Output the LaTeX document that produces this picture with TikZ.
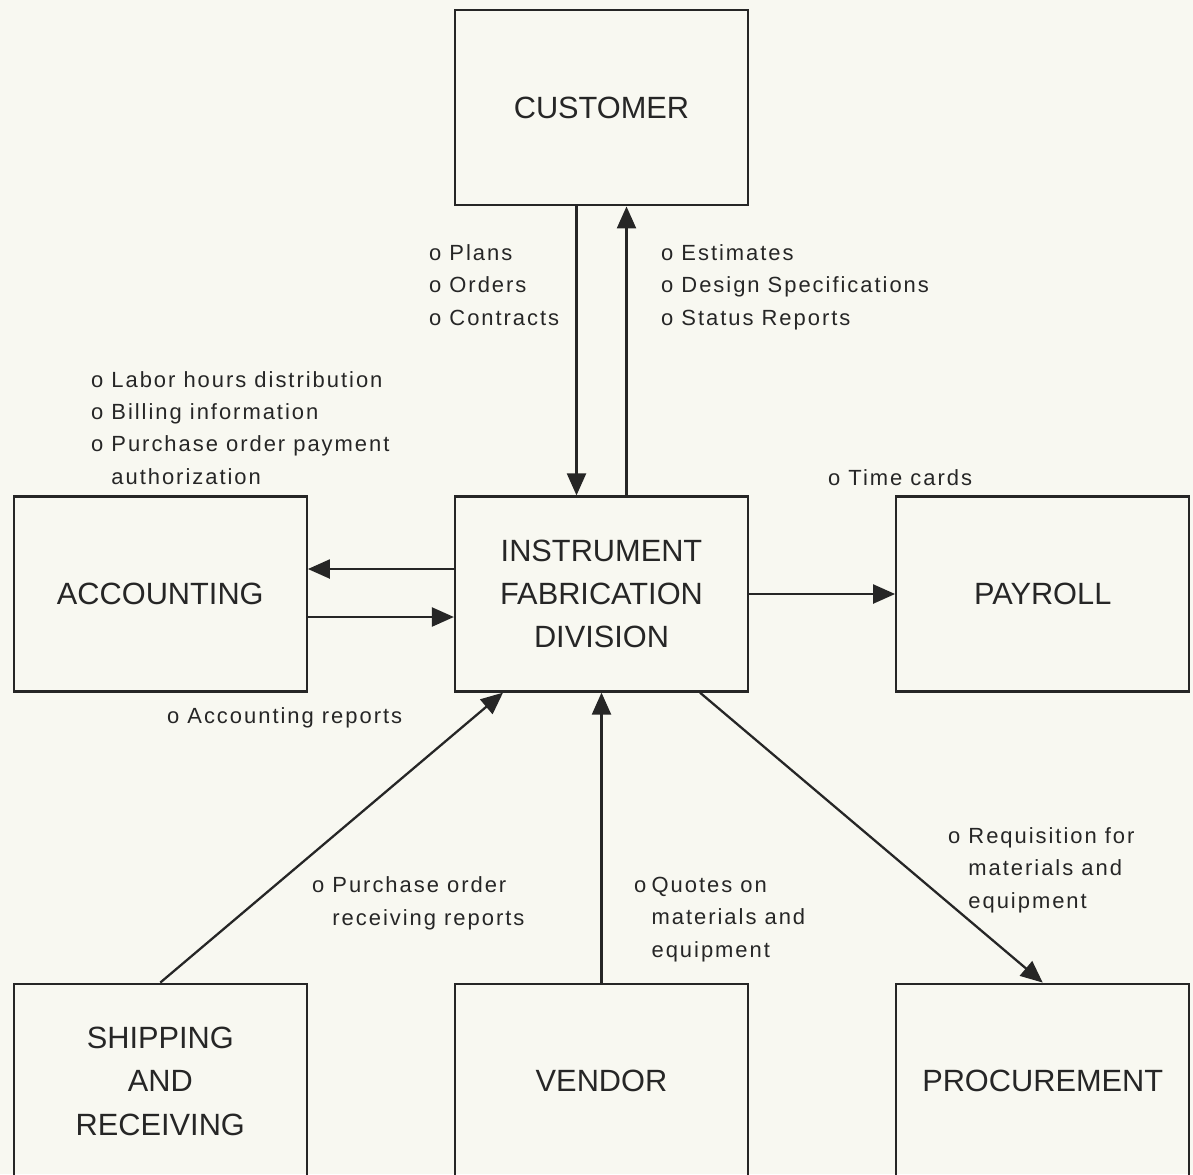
\documentclass[tikz,border=0pt]{standalone}
\usepackage{fontspec}
\setmainfont{Liberation Sans}
\newfontfamily\lblfont[LetterSpace=9]{Liberation Sans}
\usetikzlibrary{arrows.meta,positioning}
\definecolor{paper}{RGB}{248,248,241}
\definecolor{ink}{RGB}{38,38,38}

\begin{document}
\begin{tikzpicture}[->,>={Triangle[length=0.44cm,width=0.38cm]},line width=1.3pt,color=ink,
  x=0.02cm,y=-0.02cm,node distance=5.78cm and 2.92cm,
  block/.style={draw,rectangle,minimum width=5.86cm,minimum height=3.9cm,align=center,
    font=\fontsize{17.5}{24.7}\selectfont},
  info/.style={anchor=base west,align=left,inner sep=0pt,
    font=\lblfont\fontsize{12.5}{18.4}\selectfont}]

\fill[paper,-] (0,0) rectangle (1193,1174);
\useasboundingbox (0,0) rectangle (1193,1174);

\node[block] (ifd) at (601.5,594) {INSTRUMENT\\FABRICATION\\DIVISION};
\node[block] (cust) [above=of ifd] {CUSTOMER};
\node[block] (acct) [left=of ifd] {ACCOUNTING};
\node[block] (pay) [right=of ifd] {PAYROLL};
\node[block] (ship) [below left=5.8cm and 2.92cm of ifd] {SHIPPING\\AND\\RECEIVING};
\node[block] (vend) [below=5.8cm of ifd] {VENDOR};
\node[block] (proc) [below right=5.8cm and 2.92cm of ifd] {PROCUREMENT};

\path ([xshift=-0.5cm]cust.south) edge ([xshift=-0.5cm]ifd.north)
  ([xshift=0.5cm]ifd.north) edge ([xshift=0.5cm]cust.south)
  ([yshift=0.5cm]ifd.west) edge ([yshift=0.5cm]acct.east)
  ([yshift=-0.46cm]acct.east) edge ([yshift=-0.46cm]ifd.west)
  (ifd.east) edge (pay.west)
  (ship.north) edge ([xshift=-1.97cm]ifd.south)
  (vend.north) edge (ifd.south)
  ([xshift=1.97cm]ifd.south) edge (proc.north);

% flow labels (placed at the baseline of their last line)
\node[info] (plans) at (428,325) {o Plans\\o Orders\\o Contracts};
\node[info] (est) at (660,325) {o Estimates\\o Design Specifications\\o Status Reports};
\node[info] (labor) at (90,484) {o Labor hours distribution\\o Billing information\\o Purchase order payment\\\phantom{o }authorization};
\node[info] (time) at (827,485) {o Time cards};
\node[info] (acrep) at (166,723) {o Accounting reports};
\node[info] (porr) at (311,925) {o Purchase order\\\phantom{o }receiving reports};
\node[info] (quotes) at (633,957) {o\hspace{3pt}Quotes on\\\phantom{o}\hspace{3pt}materials and\\\phantom{o}\hspace{3pt}equipment};
\node[info] (req) at (947,908) {o Requisition for\\\phantom{o }materials and\\\phantom{o }equipment};

\end{tikzpicture}
\end{document}
